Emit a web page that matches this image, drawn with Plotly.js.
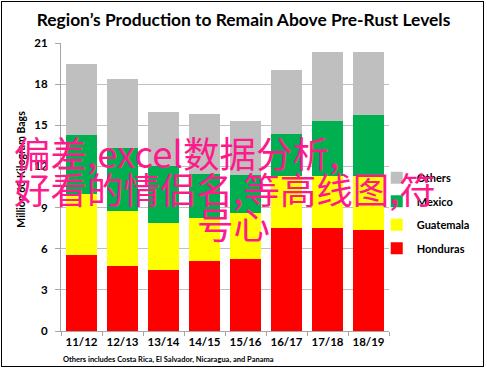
<!DOCTYPE html>
<html>
<head>
<meta charset="utf-8">
<script src="https://cdn.plot.ly/plotly-3.0.1.min.js"></script>
<style>
  html, body { margin: 0; padding: 0; background: #fff; }
  #wrap { position: relative; width: 487px; height: 369px; }
  #chart { width: 487px; height: 369px; }
  #frame { position: absolute; left: 1px; top: 1px; width: 481px; height: 364px; border: 1.5px solid #000; pointer-events: none; }
</style>
</head>
<body>
<div id="wrap">
  <div id="chart"></div>
  <div id="frame"></div>
</div>
<script>
const categories = ["11/12", "12/13", "13/14", "14/15", "15/16", "16/17", "17/18", "18/19"];
const honduras  = [5.57, 4.72, 4.43, 5.08, 5.28, 7.51, 7.51, 7.34];
const guatemala = [4.45, 4.01, 3.48, 3.19, 3.33, 3.79, 3.79, 3.94];
const mexico    = [4.30, 4.65, 4.09, 3.16, 2.79, 3.10, 4.00, 4.45];
const others    = [5.18, 4.98, 3.97, 4.38, 3.90, 4.62, 5.01, 4.63];
const yTicks = [0, 3, 6, 9, 12, 15, 18, 21];

const titleText = "Region’s Production to Remain Above Pre-Rust Levels";
const yTitleText = "Million 60 Kilogram Bags";
const footnoteText = "Others includes Costa Rica, El Salvador, Nicaragua, and Panama";
const watermarkLines = ["偏差,excel数据分析,", "好看的情侣名,等高线图,符", "号心"];

const FONT = "Lato, 'Liberation Sans', Arial, sans-serif";
const WM_FONT = "'Noto Sans CJK SC', sans-serif";

function series(name, vals, color, grp, rank) {
  return {
    type: "bar", name: name, x: categories, y: vals,
    marker: { color: color, line: { width: 0 } },
    legendgroup: grp, legendrank: rank, hoverinfo: "skip"
  };
}

const data = [
  series("Honduras", honduras, "#ff0000", "g1", 4),
  series("Guatemala", guatemala, "#ffff00", "g2", 3),
  series("Mexico", mexico, "#00b050", "g3", 2),
  series("Others", others, "#bfbfbf", "g4", 1)
];

function wm(text, px, py) {
  return {
    text: text, xref: "paper", yref: "paper",
    x: (px - 61) / 348, y: (330.7 - py) / 288,
    xanchor: "left", yanchor: "middle", showarrow: false,
    font: { family: WM_FONT, size: 36.5, color: "#ff1a8c" }
  };
}

const layout = {
  width: 487, height: 369,
  margin: { l: 61, r: 78, t: 43, b: 38 },
  paper_bgcolor: "#ffffff", plot_bgcolor: "#ffffff",
  barmode: "stack", bargap: 0.24,
  font: { family: FONT, color: "#000" },
  title: {
    text: "<b>" + titleText + "</b>",
    font: { family: FONT, size: 17.4, color: "#000" },
    x: 0.5, xanchor: "center", xref: "container",
    y: 1 - 20 / 369, yanchor: "middle", yref: "container"
  },
  xaxis: {
    type: "category",
    showgrid: false, zeroline: false,
    showline: true, linecolor: "#a6a6a6", linewidth: 1,
    ticks: "outside", tickson: "boundaries", ticklen: 4, tickcolor: "#a6a6a6",
    tickangle: 0, automargin: false,
    tickfont: { family: FONT, size: 11.5, color: "#000", weight: "bold" }
  },
  yaxis: {
    range: [0, 21], tickvals: yTicks, ticktext: yTicks.map(String),
    showgrid: true, gridcolor: "#bfbfbf", gridwidth: 1,
    zeroline: false, showline: true, linecolor: "#a6a6a6", linewidth: 1,
    ticks: "outside", ticklen: 5, tickcolor: "#a6a6a6",
    ticklabelstandoff: 5, automargin: false,
    tickfont: { family: FONT, size: 11.5, color: "#000", weight: "bold" }
  },
  legend: {
    x: (396 - 61) / 348, xanchor: "left",
    y: (330.7 - 163) / 288, yanchor: "top",
    traceorder: "grouped", tracegroupgap: 4.5,
    bgcolor: "rgba(0,0,0,0)", borderwidth: 0,
    font: { family: FONT, size: 11, color: "#000", weight: "bold" },
    itemwidth: 30
  },
  annotations: [
    {
      text: "<b>" + yTitleText + "</b>", textangle: -90,
      xref: "paper", yref: "paper",
      x: (19 - 61) / 348, y: (330.7 - 169) / 288,
      xanchor: "center", yanchor: "middle", showarrow: false,
      font: { family: FONT, size: 10.5, color: "#000" }
    },
    {
      text: "<b>" + footnoteText + "</b>",
      xref: "paper", yref: "paper",
      x: 0, y: (330.7 - 359) / 288,
      xanchor: "left", yanchor: "middle", showarrow: false,
      font: { family: FONT, size: 7.5, color: "#000" }
    },
    wm(watermarkLines[0], 9, 152),
    wm(watermarkLines[1], 9, 188),
    wm(watermarkLines[2], 203, 223)
  ]
};

Plotly.newPlot("chart", data, layout, { displayModeBar: false, staticPlot: true });
</script>
</body>
</html>
